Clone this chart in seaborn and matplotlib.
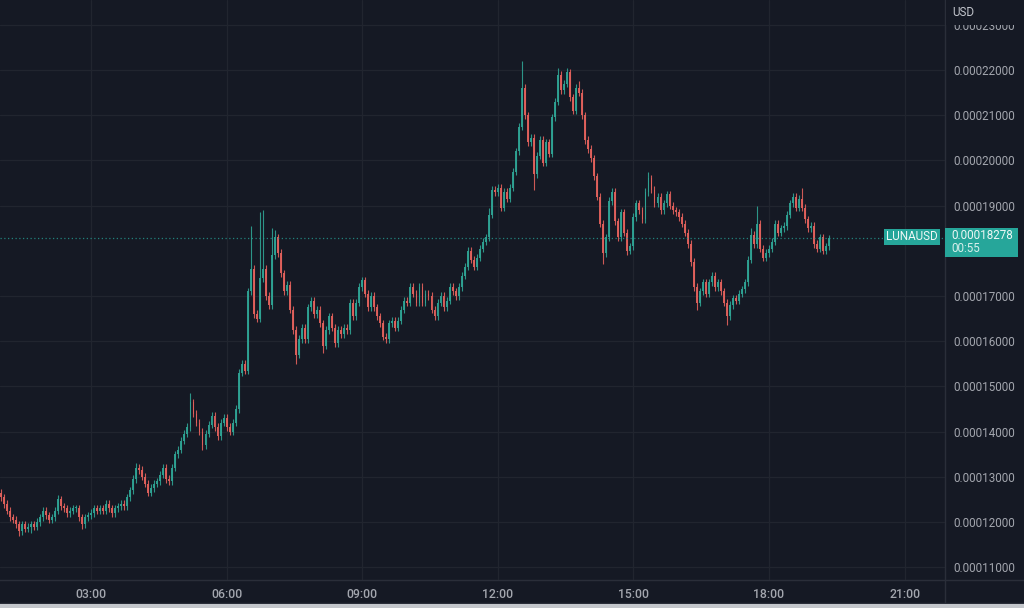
import numpy as np
import pandas as pd
import matplotlib
matplotlib.use("Agg")
import matplotlib.pyplot as plt
from matplotlib.patches import Rectangle
import seaborn as sns

# ---------------- data (prices in units of 1e-5 USD) ----------------
close_e5 = [
    12.55, 12.40, 12.25, 12.10, 12.05, 11.95, 11.80, 11.95, 11.85, 11.90,
    11.95, 11.90, 12.00, 12.10, 12.25, 12.15, 12.05, 12.10, 12.25, 12.50,
    12.35, 12.30, 12.20, 12.25, 12.30, 12.30, 12.10, 11.95, 12.10, 12.15,
    12.20, 12.30, 12.25, 12.30, 12.25, 12.40, 12.30, 12.20, 12.30, 12.35,
    12.40, 12.35, 12.55, 12.70, 12.95, 13.20, 13.15, 13.00, 12.85, 12.65,
    12.75, 12.85, 12.90, 13.05, 13.20, 12.95, 12.90, 13.20, 13.50, 13.60,
    13.80, 13.95, 14.10, 14.65, 14.40, 14.20, 14.00, 13.70, 13.95, 14.15,
    14.35, 14.10, 13.90, 14.20, 14.30, 14.10, 14.00, 14.20, 14.50, 15.30,
    15.50, 15.35, 17.10, 17.60, 16.60, 16.50, 17.40, 17.60, 17.00, 16.80,
    17.90, 18.30, 17.95, 17.50, 17.10, 17.25, 16.70, 16.25, 15.70, 16.05,
    16.30, 16.05, 16.75, 16.90, 16.60, 16.70, 16.40, 15.90, 16.25, 16.55,
    16.30, 15.95, 16.25, 16.15, 16.30, 16.25, 16.85, 16.55, 16.85, 17.20,
    17.35, 17.05, 16.75, 17.00, 16.75, 16.55, 16.40, 16.10, 16.05, 16.40,
    16.45, 16.30, 16.45, 16.70, 16.90, 16.85, 17.20, 17.05, 16.85, 17.20,
    16.85, 17.05, 17.00, 16.70, 16.55, 16.85, 17.00, 16.75, 16.90, 17.20,
    17.10, 17.00, 17.20, 17.45, 17.65, 18.00, 17.80, 17.65, 17.85, 18.05,
    18.20, 18.30, 18.80, 19.35,
    19.30, 19.40, 18.95, 19.30, 19.15, 19.40, 19.75, 20.20, 20.75, 21.60,
    21.00, 20.40, 20.50, 19.70, 20.10, 20.45, 19.95, 20.40, 20.15, 20.95,
    21.30, 21.90, 21.55, 21.70, 21.95, 21.40, 21.10, 21.60, 21.50, 21.00,
    20.45, 20.25, 20.05, 19.65, 19.20, 18.60, 17.95, 18.30, 19.10, 19.30,
    18.65, 18.30, 18.85, 18.40, 18.00, 18.10, 18.75, 19.05, 18.90, 18.70,
    19.30, 19.60,
    19.35, 19.05, 19.20, 18.90, 19.05, 19.25, 19.00, 18.90, 18.85, 18.75,
    18.60, 18.40, 18.15, 17.75, 17.20, 16.85, 17.10, 17.30, 17.05, 17.30,
    17.45, 17.20, 17.30, 17.10, 16.85, 16.55, 16.80, 16.95, 16.90, 17.05,
    17.15, 17.30, 17.80, 18.35, 18.15, 18.60, 18.05, 17.85, 17.95, 18.05,
    18.20, 18.60, 18.40, 18.50, 18.55, 18.80, 19.05, 19.20, 18.95, 19.15,
    18.95, 18.70, 18.50, 18.55, 18.15, 18.05, 18.30, 18.00, 18.10, 18.278,
]
first_open_e5 = 12.65

# notable wick extremes (candle index -> price)
spike_high_idx = [19, 45, 63, 83, 86, 87, 90, 91, 162, 173, 185, 188, 192, 215, 249, 251, 266]
spike_high_e5 = [12.60, 13.30, 14.85, 18.55, 18.85, 18.90, 18.50, 18.45, 18.95,
                 22.20, 22.05, 22.05, 21.75, 19.75, 18.50, 19.00, 19.40]
spike_low_idx = [6, 10, 27, 67, 98, 107, 128, 177, 200, 208, 231, 241]
spike_low_e5 = [11.70, 11.75, 11.85, 13.60, 15.50, 15.75, 15.95, 19.35, 17.70, 17.90, 16.70, 16.35]

start_minute = 60      # first candle 01:00
interval_min = 4
tick_hours = [3, 6, 9, 12, 15, 18, 21]
tick_labels = ["03:00", "06:00", "09:00", "12:00", "15:00", "18:00", "21:00"]
price_ticks_e5 = [11, 12, 13, 14, 15, 16, 17, 19, 20, 21, 22, 23]
symbol = "LUNAUSD"
last_label = "0.00018278"
countdown = "00:55"
currency = "USD"

# ---------------- styling ----------------
BG = "#151924"
GRID = "#21252f"
SEP = "#2a2e39"
UP = "#2fa394"
DOWN = "#e2615c"
TXT = "#a3a6ae"
BOX = "#26a69a"

sns.set_theme(style="dark")
plt.rcParams["font.family"] = ["Roboto", "DejaVu Sans"]

W, H = 1024, 608
fig = plt.figure(figsize=(W / 100, H / 100), dpi=100, facecolor=BG)
ax = fig.add_axes([0, 28 / H, 945 / W, 580 / H])
ax.set_facecolor(BG)

scale = 1e-5
close = np.array(close_e5) * scale
opens = np.concatenate([[first_open_e5 * scale], close[:-1]])
wick = 0.08 * scale
high = np.maximum(opens, close) + wick
low = np.minimum(opens, close) - wick
for i, v in zip(spike_high_idx, spike_high_e5):
    high[i] = max(high[i], v * scale)
for i, v in zip(spike_low_idx, spike_low_e5):
    low[i] = min(low[i], v * scale)

df = pd.DataFrame({
    "hour": (start_minute + interval_min * np.arange(len(close))) / 60.0,
    "open": opens, "close": close, "high": high, "low": low,
})
df["up"] = df["close"] >= df["open"]
colors = np.where(df["up"], UP, DOWN)

step = interval_min / 60.0
ax.vlines(df["hour"], df["low"], df["high"], colors=colors, linewidth=0.8, zorder=2, alpha=0.9)
body_h = np.maximum((df["close"] - df["open"]).abs(), 0.025 * scale)
ax.bar(df["hour"], body_h, bottom=np.minimum(df["open"], df["close"]),
       width=step * 0.62, color=colors, linewidth=0, zorder=3, alpha=0.95)

# axes limits matching the reference scale
px_per_hour = 45.2
px_per_unit = 45.2  # px per 1e-5
ax.set_xlim(3 - 91 / px_per_hour, 3 + (945 - 91) / px_per_hour)
ax.set_ylim((22 - (580 - 70) / px_per_unit) * scale, (22 + 70 / px_per_unit) * scale)

ax.set_xticks(tick_hours)
ax.set_xticklabels(tick_labels)
ax.set_yticks([p * scale for p in price_ticks_e5])
ax.set_yticklabels([f"{p * scale:.8f}" for p in price_ticks_e5])
ax.yaxis.tick_right()
ax.tick_params(axis="y", length=0, pad=6, labelsize=8.4, labelcolor=TXT)
ax.tick_params(axis="x", length=0, pad=6, labelsize=8.8, labelcolor=TXT)
for lab in ax.get_yticklabels():
    lab.set_horizontalalignment("left")
for lab in ax.get_xticklabels():
    lab.set_fontweight("medium")

ax.grid(True, color=GRID, linewidth=0.9)
for s in ["left", "top"]:
    ax.spines[s].set_visible(False)
for s in ["right", "bottom"]:
    ax.spines[s].set_color(SEP)
    ax.spines[s].set_linewidth(1.0)

# last price dotted line
ax.axhline(close[-1], color=BOX, linestyle=(0, (1, 2)), linewidth=0.9, alpha=0.75, zorder=4)

def fx(px):
    return px / W

def fy(py):
    return 1 - py / H

# separators extending across axes panels
fig.add_artist(plt.Line2D([fx(945), fx(945)], [fy(603), fy(580)], color=SEP, lw=1.0))
fig.add_artist(plt.Line2D([fx(945), 1], [fy(580), fy(580)], color=SEP, lw=1.0))
fig.add_artist(plt.Line2D([0, 1], [fy(603), fy(603)], color=SEP, lw=1.0))
# light bottom border
fig.add_artist(Rectangle((0, 0), 1, fy(604), transform=fig.transFigure,
                         facecolor="#c4c7cc", edgecolor="none", zorder=5))

# header of price scale (hides top of cut label)
fig.add_artist(Rectangle((fx(946), fy(25)), 1 - fx(946), 25 / H, transform=fig.transFigure,
                         facecolor=BG, edgecolor="none", zorder=5))
fig.text(fx(952), fy(12), currency, color="#c3c6cd", fontsize=8.4, va="center", ha="left", zorder=6)

# symbol label and price box
fig.add_artist(Rectangle((fx(884), fy(245)), (940 - 884) / W, 16 / H, transform=fig.transFigure,
                         facecolor=BOX, edgecolor="none", zorder=6))
fig.text(fx(912), fy(237), symbol, color="#eef7f6", fontsize=8.4, va="center", ha="center", zorder=7)
fig.add_artist(Rectangle((fx(945), fy(257)), (1018 - 945) / W, 29 / H, transform=fig.transFigure,
                         facecolor=BOX, edgecolor="none", zorder=6))
fig.text(fx(951), fy(236), last_label, color="#eef7f6", fontsize=8.4, va="center", ha="left", zorder=7)
fig.text(fx(951), fy(249), countdown, color="#d8efec", fontsize=8.4, va="center", ha="left", zorder=7)

fig.savefig("out.png", dpi=100, facecolor=BG)
